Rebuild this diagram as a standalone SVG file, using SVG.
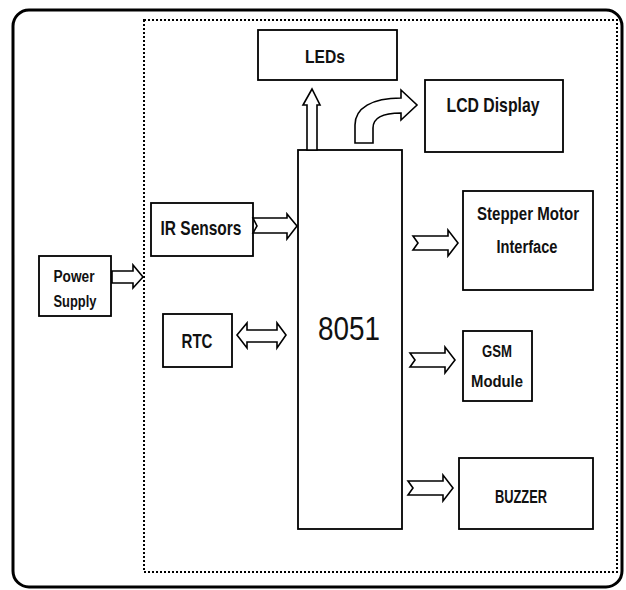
<svg xmlns="http://www.w3.org/2000/svg" width="626" height="590" viewBox="0 0 626 590">
<style>
.box{fill:#fff;stroke:#000;stroke-width:1.8}
.t{font-family:"Liberation Sans",Arial,sans-serif;font-weight:bold;fill:#111;text-anchor:middle}
.big{font-weight:normal}
.arr{fill:#fff;stroke:#000;stroke-width:1.6;stroke-linejoin:miter}
</style>
<rect width="626" height="590" fill="#fff"/>
<rect x="13" y="10" width="609" height="577" rx="16" ry="16" fill="none" stroke="#000" stroke-width="3"/>
<rect x="144" y="20" width="473" height="552" fill="none" stroke="#000" stroke-width="2" stroke-dasharray="2,2"/>

<g id="leds"><rect class="box" x="258" y="30" width="139" height="50"/><text class="t" x="325" y="63" font-size="19" textLength="40" lengthAdjust="spacingAndGlyphs">LEDs</text></g>
<g id="lcd"><rect class="box" x="425" y="80" width="138" height="72"/><text class="t" x="493" y="112" font-size="21" textLength="93" lengthAdjust="spacingAndGlyphs">LCD Display</text></g>
<g id="mcu"><rect class="box" x="298" y="150" width="104" height="379"/><text class="t big" x="349" y="340" font-size="34" textLength="62" lengthAdjust="spacingAndGlyphs">8051</text></g>
<g id="power"><rect class="box" x="39" y="256" width="72" height="60"/><text class="t" x="74" y="282" font-size="16" textLength="41" lengthAdjust="spacingAndGlyphs">Power</text><text class="t" x="75" y="307" font-size="16" textLength="43" lengthAdjust="spacingAndGlyphs">Supply</text></g>
<g id="ir"><rect class="box" x="151" y="203" width="102" height="53"/><text class="t" x="201" y="235" font-size="21" textLength="81" lengthAdjust="spacingAndGlyphs">IR Sensors</text></g>
<g id="rtc"><rect class="box" x="163" y="314" width="69" height="53"/><text class="t" x="197" y="348" font-size="20" textLength="31" lengthAdjust="spacingAndGlyphs">RTC</text></g>
<g id="stepper"><rect class="box" x="463" y="191" width="130" height="99"/><text class="t" x="528" y="220" font-size="18" textLength="102" lengthAdjust="spacingAndGlyphs">Stepper Motor</text><text class="t" x="527" y="253" font-size="18" textLength="61" lengthAdjust="spacingAndGlyphs">Interface</text></g>
<g id="gsm"><rect class="box" x="463" y="331" width="69" height="70"/><text class="t" x="497" y="357" font-size="17" textLength="30" lengthAdjust="spacingAndGlyphs">GSM</text><text class="t" x="497" y="387" font-size="17" textLength="52" lengthAdjust="spacingAndGlyphs">Module</text></g>
<g id="buzzer"><rect class="box" x="459" y="458" width="134" height="71"/><text class="t" x="521" y="503" font-size="19" textLength="52" lengthAdjust="spacingAndGlyphs">BUZZER</text></g>

<g id="connectors">
<path class="arr" d="M307,150 L307,105 L303,105 L312,89 L320,105 L317,105 L317,150 Z"/>
<path class="arr" d="M355,143 L355,125 C355,108 372,98 401,98 L401,90 L417,105 L401,120 L401,113 C385,113 373,117 373,128 L373,143 Z"/>
<path class="arr" d="M112,271 L133,271 L133,265 L143,277 L133,288 L133,283 L112,283 Z"/>
<path class="arr" d="M253,218 L287,218 L287,214 L297,226 L287,239 L287,233 L253,233 L257,226 Z"/>
<path class="arr" d="M237,335 L247,323 L247,330 L277,330 L277,323 L286,335 L277,348 L277,342 L247,342 L247,348 Z"/>
<path class="arr" d="M413,236 L448,236 L448,230 L458,243 L448,256 L448,250 L413,250 L418,243 Z"/>
<path class="arr" d="M410,353 L445,353 L445,347 L455,360 L445,373 L445,367 L410,367 L415,360 Z"/>
<path class="arr" d="M408,481 L443,481 L443,475 L453,488 L443,501 L443,495 L408,495 L413,488 Z"/>
</g>
</svg>
